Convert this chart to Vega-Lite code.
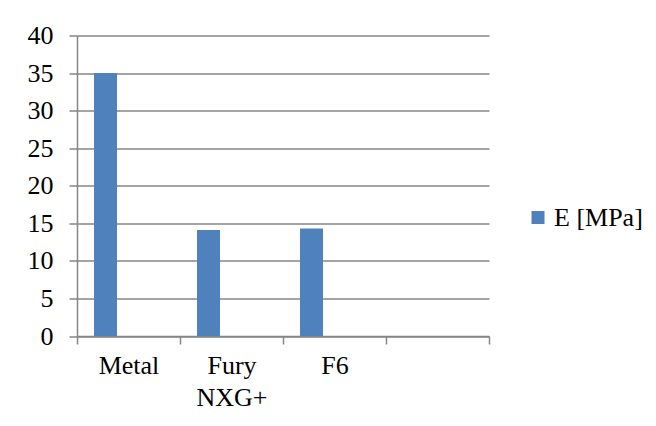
{
  "$schema": "https://vega.github.io/schema/vega-lite/v6.json",
  "width": 412,
  "height": 300.5,
  "autosize": {"type": "none"},
  "padding": {"left": 77, "top": 35.5, "right": 167, "bottom": 90},
  "background": "white",
  "config": {"view": {"stroke": null}, "font": "Liberation Serif"},
  "data": {
    "values": [
      {"material": "Metal", "series": "E [MPa]", "value": 35},
      {"material": "Fury NXG+", "series": "E [MPa]", "value": 14.1},
      {"material": "F6", "series": "E [MPa]", "value": 14.3}
    ]
  },
  "mark": {"type": "bar"},
  "encoding": {
    "x": {
      "field": "material",
      "type": "nominal",
      "sort": null,
      "scale": {"domain": ["Metal", "Fury NXG+", "F6", " "], "paddingInner": 0, "paddingOuter": 0},
      "axis": {
        "title": null,
        "labelAngle": 0,
        "labelExpr": "split(datum.label, ' ')",
        "labelFont": "Liberation Serif",
        "labelFontSize": 26,
        "labelColor": "black",
        "labelLineHeight": 32,
        "labelPadding": 8,
        "labelBaseline": "top",
        "domainColor": "#868686",
        "domainWidth": 1.5,
        "tickColor": "#868686",
        "tickWidth": 1.5,
        "tickSize": 8,
        "tickBand": "extent",
        "grid": false
      }
    },
    "xOffset": {
      "field": "series",
      "scale": {"domain": ["E [MPa]", "s2", "s3"], "paddingInner": 0, "paddingOuter": 0.739}
    },
    "y": {
      "field": "value",
      "type": "quantitative",
      "scale": {"domain": [0, 40], "nice": false},
      "axis": {
        "title": null,
        "values": [0, 5, 10, 15, 20, 25, 30, 35, 40],
        "labelFont": "Liberation Serif",
        "labelFontSize": 26,
        "labelColor": "black",
        "labelPadding": 16,
        "domainColor": "#868686",
        "domainWidth": 1.5,
        "tickColor": "#868686",
        "tickWidth": 1.5,
        "tickSize": 8,
        "grid": true,
        "gridColor": "#868686",
        "gridWidth": 1.5
      }
    },
    "color": {
      "field": "series",
      "type": "nominal",
      "scale": {"domain": ["E [MPa]"], "range": ["#4F81BD"]},
      "legend": {
        "orient": "none",
        "legendX": 448,
        "legendY": 169,
        "title": null,
        "symbolType": "square",
        "symbolSize": 169,
        "symbolStrokeWidth": 0,
        "labelFont": "Liberation Serif",
        "labelFontSize": 26,
        "labelColor": "black",
        "labelOffset": 3,
        "padding": 0
      }
    }
  }
}
